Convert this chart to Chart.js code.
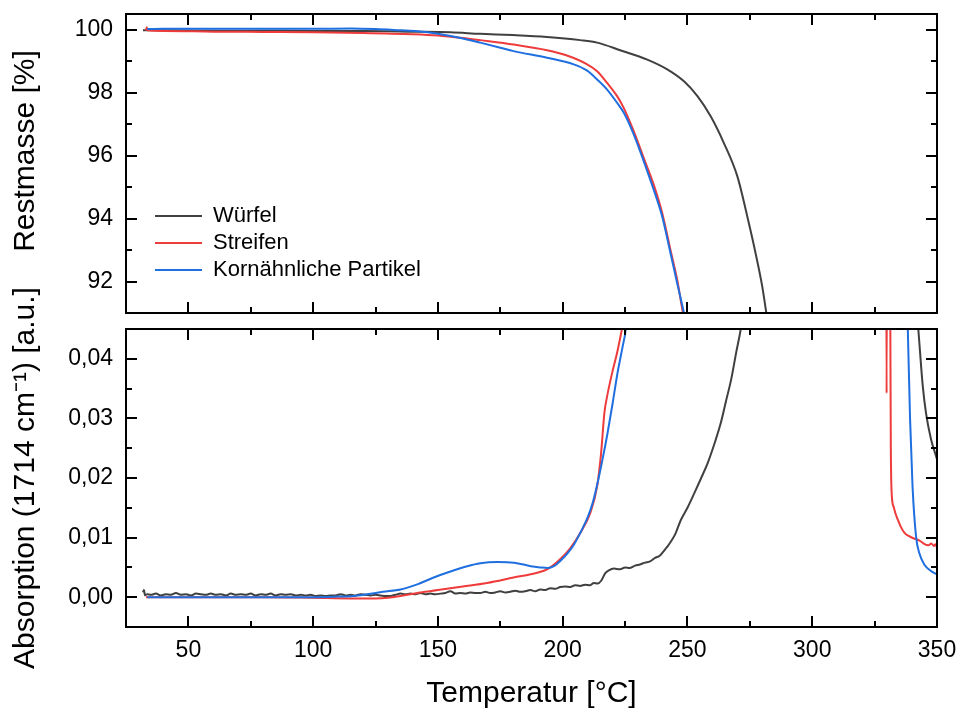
<!DOCTYPE html>
<html><head><meta charset="utf-8">
<script src="https://cdn.jsdelivr.net/npm/chart.js@4.4.1/dist/chart.umd.min.js"></script>
<style>
html,body{margin:0;padding:0;background:#fff;}
#wrap{position:relative;width:959px;height:709px;background:#fff;}
canvas{position:absolute;left:0;top:0;}
</style>
</head><body>
<div id="wrap"><canvas id="cBottom" width="959" height="709"></canvas><canvas id="cTop" width="959" height="709"></canvas></div>
<script>
// ---------- data ----------
const seriesLabels = ['Würfel', 'Streifen', 'Kornähnliche Partikel'];
const tempTicks = [50, 100, 150, 200, 250, 300, 350];
const massTicks = [92, 94, 96, 98, 100];
const absTicks = [0, 0.01, 0.02, 0.03, 0.04];

// Restmasse [%] (top panel)
const wuerfelMassT = [31.8, 40, 60, 80, 100, 120, 140, 155, 167, 180, 193.7, 207, 213.8, 223, 233.9, 241.9, 248.6, 254, 259.3, 264.6, 270, 274, 277.3, 280, 281.6, 284];
const wuerfelMass  = [99.98, 99.98, 99.97, 99.97, 99.96, 99.96, 99.94, 99.92, 99.87, 99.83, 99.77, 99.67, 99.59, 99.35, 99.05, 98.74, 98.36, 97.89, 97.25, 96.4, 95.34, 94.06, 92.9, 91.83, 91.0, 89.8];
const streifenMassT = [33.0, 33.3, 33.6, 40, 60, 80, 100, 120, 140, 150, 160, 167, 180.3, 193.7, 201.7, 209.8, 213.8, 217.8, 221.8, 224.5, 228.5, 232.5, 236.5, 239.9, 243.2, 245.9, 248.2, 250.5];
const streifenMass  = [99.98, 100.08, 99.98, 99.96, 99.94, 99.93, 99.92, 99.9, 99.86, 99.82, 99.74, 99.67, 99.53, 99.35, 99.18, 98.9, 98.68, 98.31, 97.89, 97.51, 96.77, 95.92, 95.07, 94.17, 93.0, 92.05, 91.0, 90.2];
const kornMassT = [33.5, 40, 60, 80, 100, 115, 125, 135, 142, 150, 160, 167, 175, 180.3, 193.7, 204.4, 209.8, 213.8, 217.8, 221.8, 224.5, 228.5, 232.5, 236.5, 239.9, 243.2, 245.9, 248.6, 251];
const kornMass  = [100.02, 100.03, 100.03, 100.03, 100.03, 100.04, 100.02, 99.98, 99.95, 99.87, 99.72, 99.59, 99.43, 99.32, 99.11, 98.9, 98.7, 98.42, 98.1, 97.68, 97.36, 96.67, 95.82, 94.91, 94.06, 92.9, 91.94, 91.0, 90.1];

// Absorption 1714 cm-1 (bottom panel)
const wuerfelAbsT = [31.8, 32.2, 32.6, 33.5, 35, 37, 39, 41, 43, 45, 47, 49, 51, 53, 55, 57, 59, 61, 63, 65, 67, 69, 71, 73, 75, 77, 79, 81, 83, 85, 87, 89, 91, 93, 95, 97, 99, 101, 103, 105, 107, 109, 111, 113, 115, 117, 119, 121, 123, 125, 127, 129, 131, 133, 135, 137, 139, 141, 143, 145, 147, 149, 151, 153, 155, 157, 159, 161, 163, 165, 167, 169, 171, 173, 175, 177, 179, 181, 183, 185, 187, 189, 191, 193, 195, 197, 199, 201, 203, 205, 207, 209, 211, 212.5, 214, 215.5, 217, 218.5, 220.5, 223, 225, 227, 229, 231, 233, 235, 237, 239, 241, 242.5, 245, 247.4, 250, 252.8, 255.5, 258.1, 261, 263.4, 265.5, 267.5, 269.5, 271.4, 273, 280, 335, 341.5, 342.5, 344.3, 345.6, 347.6, 349.6, 350];
const wuerfelAbs  = [0.0008, 0.0012, 0.0003, 0.0005, 0.0004, 0.0006, 0.0003, 0.0005, 0.0004, 0.0007, 0.0004, 0.0005, 0.0003, 0.0006, 0.0005, 0.0004, 0.0006, 0.0004, 0.0005, 0.0003, 0.0006, 0.0004, 0.0005, 0.0004, 0.0006, 0.0003, 0.0005, 0.0004, 0.0006, 0.0003, 0.0005, 0.0004, 0.0005, 0.0003, 0.0004, 0.0003, 0.0004, 0.0002, 0.0003, 0.0002, 0.0003, 0.0003, 0.0005, 0.0003, 0.0004, 0.0003, 0.0005, 0.0004, 0.0003, 0.0004, 0.0003, 0.0002, 0.0002, 0.0004, 0.0006, 0.0005, 0.0006, 0.0005, 0.0007, 0.0005, 0.0006, 0.0005, 0.0006, 0.0007, 0.0010, 0.0006, 0.0007, 0.0006, 0.0008, 0.0007, 0.0007, 0.0009, 0.0007, 0.0008, 0.0010, 0.0008, 0.0009, 0.0011, 0.0009, 0.0010, 0.0012, 0.0010, 0.0013, 0.0012, 0.0015, 0.0014, 0.0017, 0.0018, 0.0017, 0.0020, 0.0019, 0.0021, 0.0020, 0.0024, 0.0023, 0.0028, 0.0040, 0.0045, 0.0048, 0.0047, 0.0050, 0.0049, 0.0053, 0.0055, 0.0058, 0.0060, 0.0066, 0.0070, 0.0080, 0.0088, 0.0105, 0.0130, 0.0150, 0.0175, 0.0200, 0.0225, 0.0260, 0.0293, 0.0330, 0.0365, 0.0410, 0.0451, 0.050, 0.080, 0.080, 0.050, 0.045, 0.0354, 0.0309, 0.0265, 0.0237, 0.0231];
const streifenAbsT = [33, 40, 60, 80, 100, 115, 125, 130, 135, 143, 150, 160, 169.7, 180.3, 189.8, 193.9, 199.3, 203, 207.1, 211.1, 213.8, 215.4, 216.7, 217.8, 219.8, 221.8, 223.8, 226, 240, 320, 329.6, 329.8, 330.0, 331.0, 331.5, 331.9, 332.6, 333.4, 334.3, 335.5, 337, 339, 341, 343, 345, 346.5, 347.7, 348.8, 349.4, 350];
const streifenAbs  = [0, 0, 0, 0, -0.0001, -0.0002, -0.0002, -0.0001, 0.0002, 0.0008, 0.0012, 0.0018, 0.0024, 0.0033, 0.0041, 0.0047, 0.0065, 0.0082, 0.0108, 0.0142, 0.0186, 0.0242, 0.0309, 0.0337, 0.0376, 0.0410, 0.0451, 0.050, 0.080, 0.080, 0.070, 0.0342, 0.070, 0.070, 0.025, 0.017, 0.0152, 0.0140, 0.0130, 0.0118, 0.0108, 0.0102, 0.0098, 0.0095, 0.0089, 0.0087, 0.0090, 0.0086, 0.0089, 0.0083];
const kornAbsT = [33.5, 40, 60, 80, 100, 110, 116, 121.6, 128, 135, 142, 148.3, 155, 161.7, 167, 173.8, 180.5, 187.2, 191, 193.9, 196.5, 199.3, 202, 204.6, 207.3, 210, 212, 214, 216, 218, 220, 222, 224, 225.3, 228, 240, 330, 337.5, 338.3, 339.2, 340.2, 341.6, 342.9, 344.9, 347.6, 350];
const kornAbs  = [0, 0, 0, 0, 0, 0.0001, 0.0002, 0.0005, 0.0009, 0.0013, 0.0022, 0.0033, 0.0043, 0.0052, 0.0057, 0.0059, 0.0058, 0.0052, 0.0050, 0.0049, 0.0052, 0.0062, 0.0074, 0.0089, 0.0110, 0.0134, 0.0158, 0.0192, 0.0232, 0.0276, 0.0325, 0.0377, 0.0420, 0.0451, 0.060, 0.090, 0.090, 0.060, 0.045, 0.030, 0.0186, 0.0102, 0.0074, 0.0055, 0.0044, 0.0038];

// ---------- helpers ----------
const FONT = "'Liberation Sans', Arial, Helvetica, sans-serif";
const colors = ['#404040', '#ee3b3b', '#1f6fe0'];
const pts = (t, v) => t.map((x, i) => ({x: x, y: v[i]}));
const near = (list, v) => list.find(t => Math.abs(t - v) < 1e-9);
const zeroPad = s => { s.paddingLeft = 0; s.paddingRight = 0; s.paddingTop = 0; s.paddingBottom = 0; };

function makeFrame(yMajor) {
  return {
    id: 'frameTicks',
    afterDraw(chart) {
      const ctx = chart.ctx, a = chart.chartArea;
      const xs = chart.scales.x, ys = chart.scales.y;
      ctx.save();
      ctx.strokeStyle = '#000';
      ctx.lineWidth = 2;
      ctx.beginPath();
      xs.ticks.forEach(t => {
        const p = Math.round(xs.getPixelForValue(t.value));
        const len = near(tempTicks, t.value) !== undefined ? 11 : 6;
        ctx.moveTo(p, a.top); ctx.lineTo(p, a.top + len);
        ctx.moveTo(p, a.bottom); ctx.lineTo(p, a.bottom - len);
      });
      ys.ticks.forEach(t => {
        const p = Math.round(ys.getPixelForValue(t.value));
        const len = near(yMajor, t.value) !== undefined ? 11 : 6;
        ctx.moveTo(a.left, p); ctx.lineTo(a.left + len, p);
        ctx.moveTo(a.right, p); ctx.lineTo(a.right - len, p);
      });
      ctx.stroke();
      ctx.strokeRect(a.left, a.top, a.right - a.left, a.bottom - a.top);
      ctx.restore();
    }
  };
}

const legendPlace = {
  id: 'legendPlace',
  afterLayout(chart) {
    const lg = chart.legend;
    if (!lg) return;
    lg.left = chart.chartArea.left + 24;
    lg.top = chart.chartArea.top + 186;
  }
};

function ds(i, t, v, order) {
  return {label: seriesLabels[i], data: pts(t, v), borderColor: colors[i], backgroundColor: colors[i],
          borderWidth: 2, pointRadius: 0, cubicInterpolationMode: 'monotone', order: order, clip: 0};
}

const tickFont = {family: FONT, size: 23, lineHeight: 1};
const titleFont = {family: FONT, size: 30, lineHeight: 1};

// ---------- top panel ----------
new Chart(document.getElementById('cTop'), {
  type: 'line',
  data: {datasets: [
    ds(0, wuerfelMassT, wuerfelMass, 2),
    ds(1, streifenMassT, streifenMass, 1),
    ds(2, kornMassT, kornMass, 0)
  ]},
  options: {
    responsive: false, animation: false, devicePixelRatio: 1,
    layout: {padding: {left: 0, right: 22, top: 14, bottom: 396}},
    plugins: {
      legend: {display: true, position: 'chartArea', align: 'start',
        labels: {boxWidth: 47, boxHeight: 0, padding: 5, color: '#000', font: {family: FONT, size: 22},
          sort: (a, b) => a.datasetIndex - b.datasetIndex}},
      tooltip: {enabled: false}
    },
    scales: {
      x: {type: 'linear', min: 25, max: 350,
        ticks: {stepSize: 25, display: false, autoSkip: false},
        grid: {display: false, drawTicks: false}, border: {display: false},
        afterFit: s => { s.height = 0; zeroPad(s); }},
      y: {type: 'linear', min: 91, max: 100.5,
        ticks: {stepSize: 1, includeBounds: false, padding: 13, color: '#000', font: tickFont,
          callback: v => near(massTicks, v) !== undefined ? String(v) : ''},
        grid: {display: false, drawTicks: false}, border: {display: false},
        title: {display: true, text: '   Restmasse [%]', color: '#000', font: titleFont, padding: {top: 10.5, bottom: 0}},
        afterFit: s => { s.width = 126; zeroPad(s); }}
    }
  },
  plugins: [makeFrame(massTicks), legendPlace]
});

// ---------- bottom panel ----------
new Chart(document.getElementById('cBottom'), {
  type: 'line',
  data: {datasets: [
    ds(0, wuerfelAbsT, wuerfelAbs, 2),
    ds(1, streifenAbsT, streifenAbs, 1),
    ds(2, kornAbsT, kornAbs, 0)
  ]},
  options: {
    responsive: false, animation: false, devicePixelRatio: 1,
    layout: {padding: {left: 0, right: 22, top: 329, bottom: 0}},
    plugins: {legend: {display: false}, tooltip: {enabled: false}},
    scales: {
      x: {type: 'linear', min: 25, max: 350,
        ticks: {stepSize: 25, autoSkip: false, maxRotation: 0, padding: 12, color: '#000', font: tickFont,
          callback: v => near(tempTicks, v) !== undefined ? String(v) : ''},
        grid: {display: false, drawTicks: false}, border: {display: false},
        title: {display: true, text: 'Temperatur [°C]', color: '#000', font: titleFont, padding: {top: 0, bottom: 0}},
        afterFit: s => { s.height = 82; zeroPad(s); }},
      y: {type: 'linear', min: -0.005, max: 0.045,
        ticks: {stepSize: 0.005, includeBounds: false, padding: 13, color: '#000', font: tickFont,
          callback: v => { const k = near(absTicks, v); return k === undefined ? '' : k.toFixed(2).replace('.', ','); }},
        grid: {display: false, drawTicks: false}, border: {display: false},
        title: {display: true, text: 'Absorption (1714 cm\u207B\u00B9) [a.u.]', color: '#000', font: titleFont, padding: {top: 10.5, bottom: 0}},
        afterFit: s => { s.width = 126; zeroPad(s); }}
    }
  },
  plugins: [makeFrame(absTicks)]
});
</script>
</body></html>
